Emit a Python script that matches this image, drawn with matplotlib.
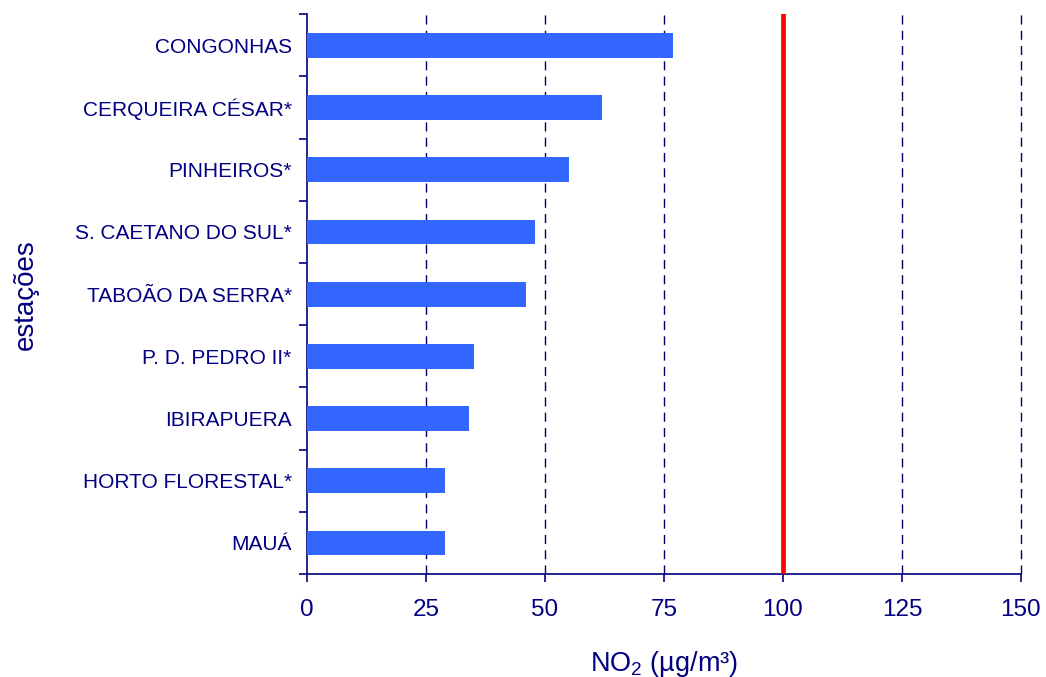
import matplotlib
matplotlib.use('Agg')
import matplotlib.pyplot as plt

# NO2 por estação
estacoes = ['CONGONHAS', 'CERQUEIRA CÉSAR*', 'PINHEIROS*', 'S. CAETANO DO SUL*',
            'TABOÃO DA SERRA*', 'P. D. PEDRO II*', 'IBIRAPUERA', 'HORTO FLORESTAL*', 'MAUÁ']
no2 = [77, 62, 55, 48, 46, 35, 34, 29, 29]
padrao = 100
xticks = [0, 25, 50, 75, 100, 125, 150]

navy = '#000080'
plt.rcParams['font.family'] = ['Liberation Sans', 'DejaVu Sans']
plt.rcParams['mathtext.default'] = 'regular'

fig = plt.figure(figsize=(10.46, 6.77), dpi=100)
ax = fig.add_axes([0.2935, 0.152, 0.6825, 0.827])

y = list(range(len(estacoes)))
ax.barh(y, no2, height=0.4, color='#3366FF', zorder=3)
ax.axvline(padrao, color='#FF0000', lw=3.4, zorder=4)

ax.set_xlim(0, 150)
ax.set_ylim(len(estacoes) - 0.5, -0.5)
ax.set_xticks(xticks)
ax.set_xticklabels([str(v) for v in xticks], fontsize=17.5, color=navy)
for v in xticks[1:]:
    ax.axvline(v, color='#000060', lw=1, ls=(0, (6.5, 4.5)), zorder=1, clip_on=False)

ax.set_yticks(y)
ax.set_yticklabels(estacoes, fontsize=15, color=navy)
ax.tick_params(axis='y', length=0, pad=11)
ax.set_yticks([i + 0.5 for i in range(-1, len(estacoes))], minor=True)
ax.tick_params(axis='y', which='minor', length=6, color=navy, width=1.2)
ax.tick_params(axis='x', length=6, color=navy, width=1.2, pad=12)

for s in ['top', 'right']:
    ax.spines[s].set_visible(False)
for s in ['left', 'bottom']:
    ax.spines[s].set_color(navy)
    ax.spines[s].set_linewidth(1.2)

ax.set_xlabel(r'NO$_2$ (µg/m³)', fontsize=19.5, color=navy, labelpad=20)
ax.set_ylabel('estações', fontsize=20, color=navy)
ax.yaxis.set_label_coords(-0.375, 0.5)

fig.savefig('out.png', dpi=100)
